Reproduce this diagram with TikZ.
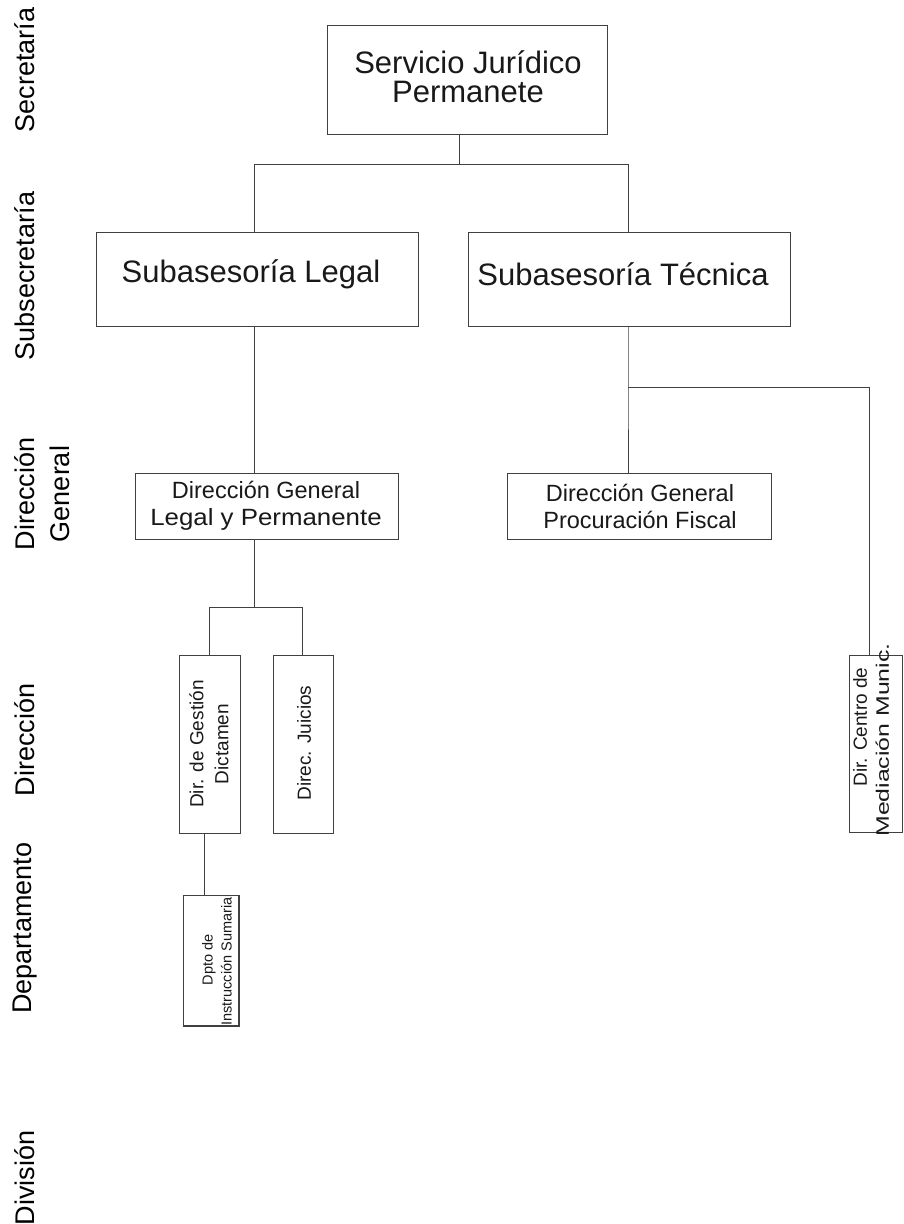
\documentclass[tikz,border=0pt]{standalone}
\usepackage{fontspec}
\setmainfont{Liberation Sans}
\begin{document}
\begin{tikzpicture}[x=1pt,y=-1pt,
  box/.style={draw=black!75, line width=1pt, fill=white, inner sep=0pt, anchor=north west},
  conn/.style={draw=black!75, line width=0.9pt},
  lvl/.style={rotate=90, align=center, inner sep=0pt, font=\fontsize{27}{35}\selectfont},
  txt/.style={align=center, inner sep=0pt, text=black!90}]
\useasboundingbox (0,0) rectangle (903,1224);
% level labels
\node[lvl] (l1) at (25,70) {Secretaría};
\node[lvl] (l2) at (25,276) {Subsecretaría};
\node[lvl] (l3) at (42,494) {Dirección\\General};
\node[lvl] (l4) at (25,740) {Dirección};
\node[lvl] (l5) at (25,928) {Departamento};
\node[lvl] (l6) at (25,1178) {División};
% boxes
\node[box, minimum width=280pt, minimum height=109pt] (top) at (327,25) {};
\node[txt, font=\fontsize{31}{29}\selectfont] (toptx) at (468,77) {Servicio Jurídico\\Permanete};
\node[box, minimum width=322pt, minimum height=94pt] (leg) at (96,232) {};
\node[txt, font=\fontsize{31}{30}\selectfont] (legtx) at (251,274) {Subasesoría Legal};
\node[box, minimum width=322pt, minimum height=94pt] (tec) at (468,232) {};
\node[txt, font=\fontsize{31}{30}\selectfont] (tectx) at (623,274) {Subasesoría Técnica};
\node[box, minimum width=263pt, minimum height=66pt] (dgl) at (135,473) {};
\node[txt, font=\fontsize{23.5}{27}\selectfont] (dgltx) at (266,506) {Dirección General\\\scalebox{1.1}[1]{Legal y Permanente}};
\node[box, minimum width=264pt, minimum height=66pt] (dgp) at (507,473) {};
\node[txt, font=\fontsize{23.5}{27}\selectfont] (dgptx) at (640,506) {Dirección General\\Procuración Fiscal};
\node[box, minimum width=61pt, minimum height=178pt] (ges) at (179,655) {};
\node[txt, rotate=90, font=\fontsize{19}{25}\selectfont] (gestx) at (209,744) {Dir. de Gestión\\Dictamen};
\node[box, minimum width=60pt, minimum height=178pt] (jui) at (273,655) {};
\node[txt, rotate=90, font=\fontsize{19}{25}\selectfont] (juitx) at (304,743) {Direc. Juicios};
\node[box, minimum width=53pt, minimum height=177pt] (cen) at (849,655) {};
\node[txt, rotate=90, font=\fontsize{18}{22}\selectfont] (centx) at (871,740) {\hspace*{26pt}{\fontsize{19}{22}\selectfont Dir. Centro de}\\\scalebox{1.38}[1]{Mediación Munic.}};
\node[box, minimum width=55pt, minimum height=130pt] (dpt) at (183,895) {};
\begin{scope}
\clip (dpt.south west) rectangle (dpt.north east);
\node[txt, rotate=90, font=\fontsize{14.5}{19}\selectfont] (dpttx) at (217,960) {Dpto de\\Instrucción Sumarial};
\end{scope}
\draw[draw=black!75, line width=1pt] (dpt.south west) rectangle (dpt.north east);
% junction coordinates
\coordinate (j1) at (459,164);
\coordinate (j1l) at (254,164);
\coordinate (j1r) at (628,164);
\coordinate (j2) at (628,387);
\coordinate (j2r) at (869,387);
\coordinate (j3) at (254,607);
\coordinate (j3l) at (209,607);
\coordinate (j3r) at (302,607);
\coordinate (j4) at (204,860);
% connectors
\draw[conn] (top.south -| j1) -- (j1);
\draw[conn] (j1l) -- (j1r);
\draw[conn] (j1l) -- (leg.north -| j1l);
\draw[conn] (j1r) -- (tec.north -| j1r);
\draw[conn] (leg.south -| j1l) -- (dgl.north -| j1l);
\draw[conn] (tec.south -| j2) -- (j2) -- (dgp.north -| j2);
\draw[conn] (j2) -- (j2r) -- (cen.north -| j2r);
\draw[conn] (dgl.south -| j3) -- (j3);
\draw[conn] (j3l) -- (j3r);
\draw[conn] (j3l) -- (ges.north -| j3l);
\draw[conn] (j3r) -- (jui.north -| j3r);
\draw[conn] (ges.south -| j4) -- (dpt.north -| j4);
\end{tikzpicture}
\end{document}
